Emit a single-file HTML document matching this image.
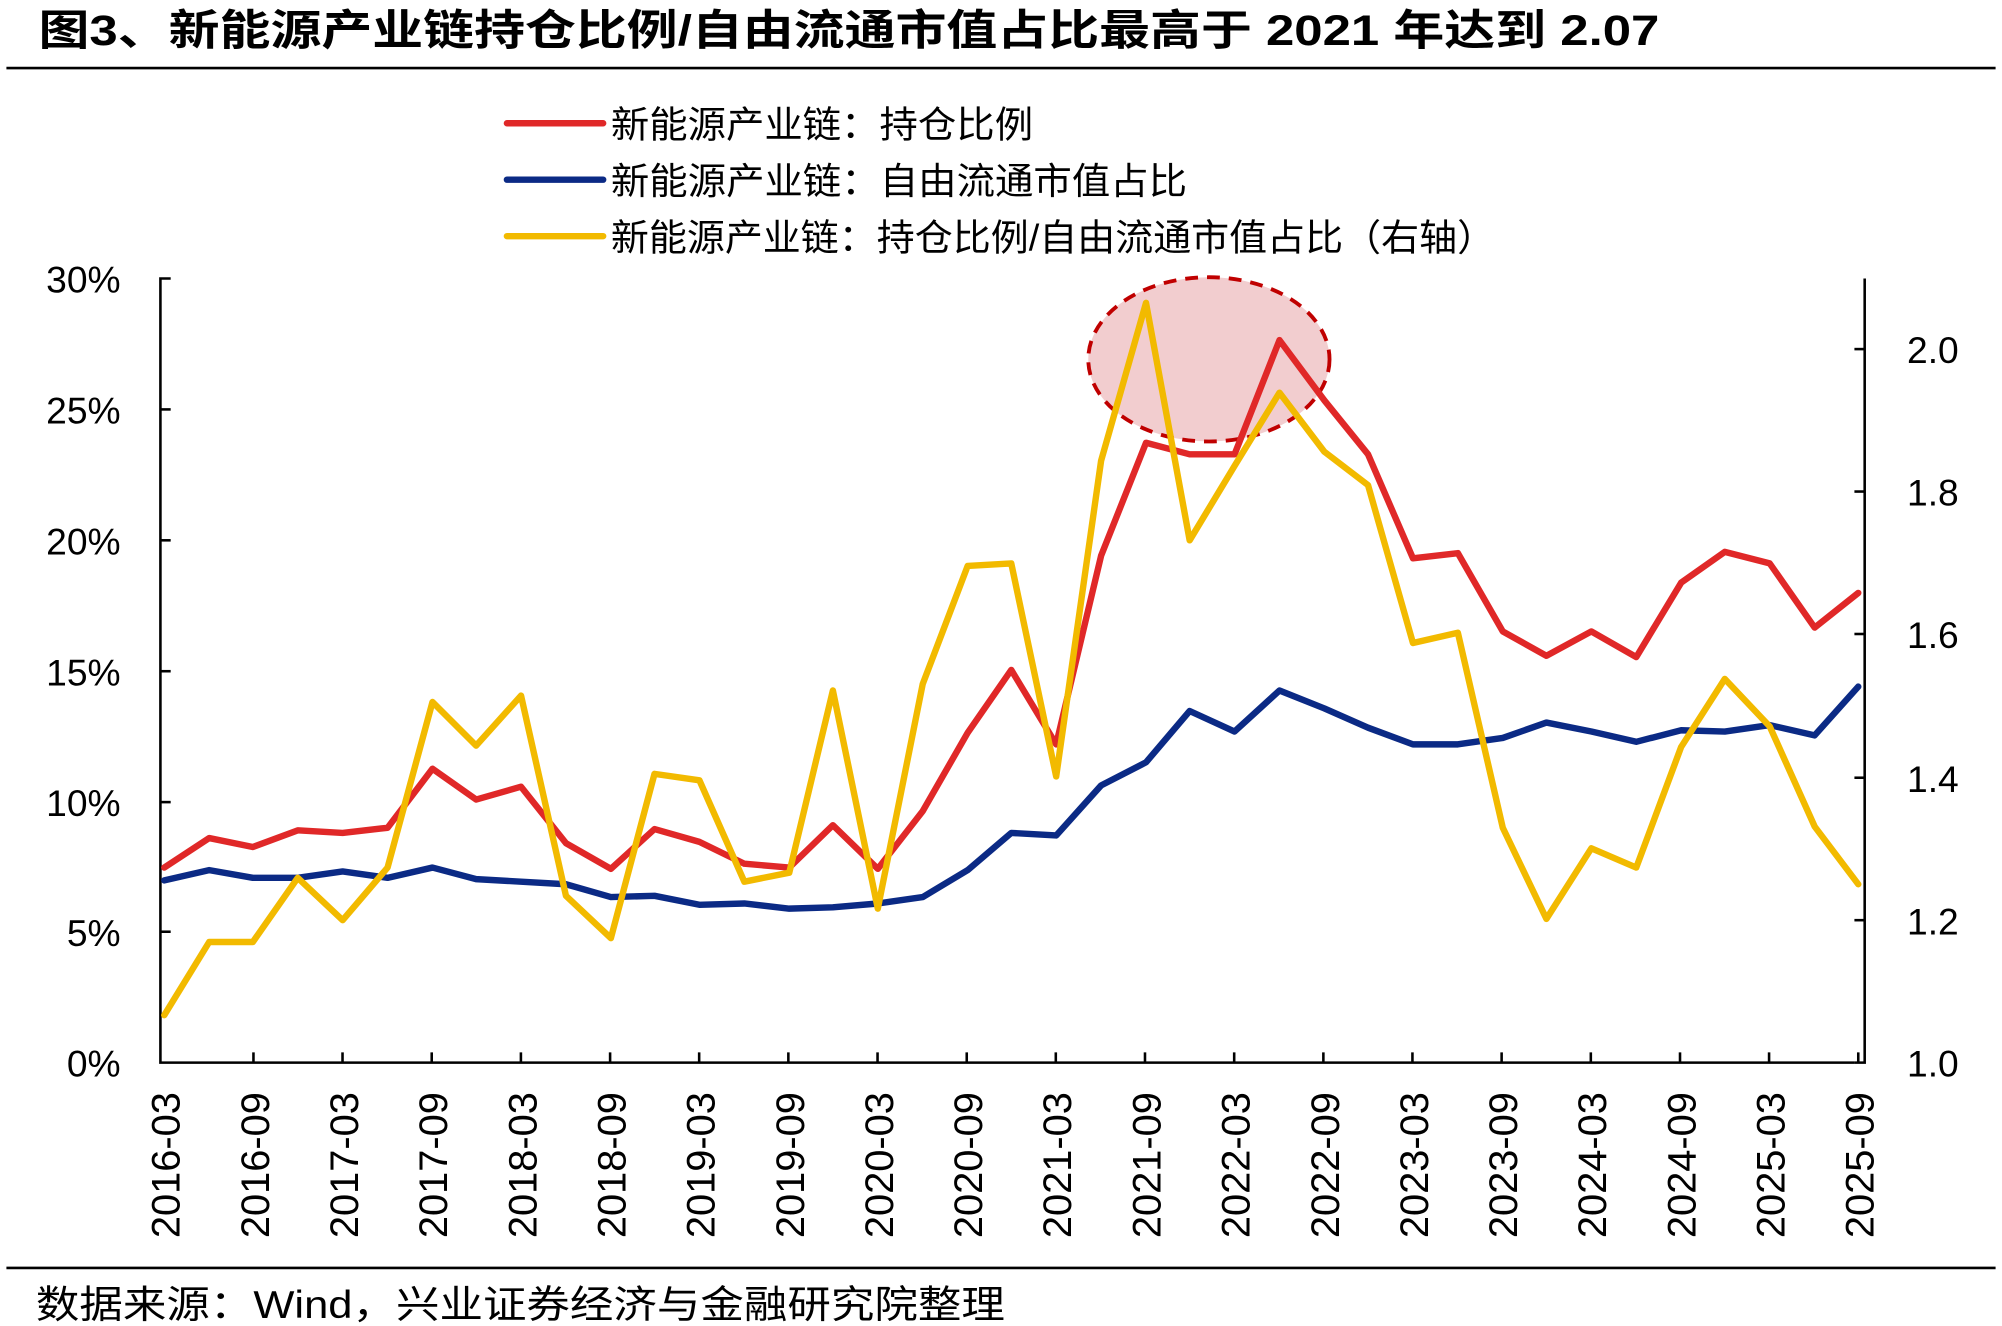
<!DOCTYPE html>
<html><head><meta charset="utf-8"><style>
html,body{margin:0;padding:0;background:#fff;}
svg{display:block;}
text{font-family:"Liberation Sans","Noto Sans CJK SC",sans-serif;fill:#000;}
</style></head><body>
<svg width="2002" height="1326" viewBox="0 0 1560 1033.2" xmlns="http://www.w3.org/2000/svg">
<text x="30" y="35" font-size="33" font-weight="bold" textLength="1263" lengthAdjust="spacingAndGlyphs">图3、新能源产业链持仓比例/自由流通市值占比最高于 2021 年达到 2.07</text>
<line x1="5" y1="53" x2="1555" y2="53" stroke="#000" stroke-width="2"/>
<line x1="395" y1="96" x2="470" y2="96" stroke="#e02828" stroke-width="5" stroke-linecap="round"/>
<line x1="395" y1="140" x2="470" y2="140" stroke="#0b2a85" stroke-width="5" stroke-linecap="round"/>
<line x1="395" y1="184" x2="470" y2="184" stroke="#f2ba00" stroke-width="5" stroke-linecap="round"/>
<text x="476" y="107" font-size="29" textLength="329" lengthAdjust="spacingAndGlyphs">新能源产业链：持仓比例</text>
<text x="476" y="151" font-size="29" textLength="449" lengthAdjust="spacingAndGlyphs">新能源产业链：自由流通市值占比</text>
<text x="476" y="195" font-size="29" textLength="689" lengthAdjust="spacingAndGlyphs">新能源产业链：持仓比例/自由流通市值占比（右轴）</text>
<ellipse cx="942" cy="280" rx="94" ry="64" fill="#e8a4a8" fill-opacity="0.55" stroke="#c00000" stroke-width="3" stroke-dasharray="10,7"/>
<g stroke="#000" stroke-width="2" fill="none">
<polyline points="133,217 125,217 125,828 1445,828"/>
<line x1="125" y1="319" x2="133" y2="319"/><line x1="125" y1="421" x2="133" y2="421"/><line x1="125" y1="523" x2="133" y2="523"/><line x1="125" y1="625" x2="133" y2="625"/><line x1="125" y1="726" x2="133" y2="726"/>
<polyline points="1453,217 1453,828 1445,828"/>
<line x1="1445" y1="272" x2="1453" y2="272"/><line x1="1445" y1="383" x2="1453" y2="383"/><line x1="1445" y1="494" x2="1453" y2="494"/><line x1="1445" y1="606" x2="1453" y2="606"/><line x1="1445" y1="717" x2="1453" y2="717"/>
<line x1="197.5" y1="820" x2="197.5" y2="828"/><line x1="266.9" y1="820" x2="266.9" y2="828"/><line x1="336.4" y1="820" x2="336.4" y2="828"/><line x1="405.9" y1="820" x2="405.9" y2="828"/><line x1="475.4" y1="820" x2="475.4" y2="828"/><line x1="544.8" y1="820" x2="544.8" y2="828"/><line x1="614.3" y1="820" x2="614.3" y2="828"/><line x1="683.8" y1="820" x2="683.8" y2="828"/><line x1="753.3" y1="820" x2="753.3" y2="828"/><line x1="822.7" y1="820" x2="822.7" y2="828"/><line x1="892.2" y1="820" x2="892.2" y2="828"/><line x1="961.7" y1="820" x2="961.7" y2="828"/><line x1="1031.2" y1="820" x2="1031.2" y2="828"/><line x1="1100.6" y1="820" x2="1100.6" y2="828"/><line x1="1170.1" y1="820" x2="1170.1" y2="828"/><line x1="1239.6" y1="820" x2="1239.6" y2="828"/><line x1="1309.1" y1="820" x2="1309.1" y2="828"/><line x1="1378.5" y1="820" x2="1378.5" y2="828"/><line x1="1448" y1="820" x2="1448" y2="828"/>
</g>
<g font-size="29" text-anchor="end">
<text x="94" y="228">30%</text><text x="94" y="330">25%</text><text x="94" y="432">20%</text><text x="94" y="534">15%</text><text x="94" y="636">10%</text><text x="94" y="737">5%</text><text x="94" y="839">0%</text>
</g>
<g font-size="29">
<text x="1486" y="283">2.0</text><text x="1486" y="394">1.8</text><text x="1486" y="505">1.6</text><text x="1486" y="617">1.4</text><text x="1486" y="728">1.2</text><text x="1486" y="839">1.0</text>
</g>
<g font-size="31" text-anchor="end">
<text transform="translate(140,851) rotate(-90)">2016-03</text>
<text transform="translate(209.5,851) rotate(-90)">2016-09</text>
<text transform="translate(278.9,851) rotate(-90)">2017-03</text>
<text transform="translate(348.4,851) rotate(-90)">2017-09</text>
<text transform="translate(417.9,851) rotate(-90)">2018-03</text>
<text transform="translate(487.4,851) rotate(-90)">2018-09</text>
<text transform="translate(556.8,851) rotate(-90)">2019-03</text>
<text transform="translate(626.3,851) rotate(-90)">2019-09</text>
<text transform="translate(695.8,851) rotate(-90)">2020-03</text>
<text transform="translate(765.3,851) rotate(-90)">2020-09</text>
<text transform="translate(834.7,851) rotate(-90)">2021-03</text>
<text transform="translate(904.2,851) rotate(-90)">2021-09</text>
<text transform="translate(973.7,851) rotate(-90)">2022-03</text>
<text transform="translate(1043.2,851) rotate(-90)">2022-09</text>
<text transform="translate(1112.6,851) rotate(-90)">2023-03</text>
<text transform="translate(1182.1,851) rotate(-90)">2023-09</text>
<text transform="translate(1251.6,851) rotate(-90)">2024-03</text>
<text transform="translate(1321.1,851) rotate(-90)">2024-09</text>
<text transform="translate(1390.5,851) rotate(-90)">2025-03</text>
<text transform="translate(1460,851) rotate(-90)">2025-09</text>
</g>
<polyline fill="none" stroke="#0b2a85" stroke-width="5" stroke-linejoin="round" stroke-linecap="round" points="128,686 163,678 197,684 232,684 267,679 302,684 337,676 371,685 406,687 441,689 476,699 510,698 545,705 580,704 615,708 649,707 684,704 719,699 754,678 788,649 823,651 858,612 893,594 927,554 962,570 997,538 1032,552 1066,567 1101,580 1136,580 1171,575 1205,563 1240,570 1275,578 1310,569 1344,570 1379,565 1414,573 1448,535"/>
<polyline fill="none" stroke="#e02828" stroke-width="5" stroke-linejoin="round" stroke-linecap="round" points="128,676 163,653 197,660 232,647 267,649 302,645 337,599 371,623 406,613 441,657 476,677 510,646 545,656 580,673 615,676 649,643 684,677 719,632 754,571 788,522 823,580 858,433 893,345 927,354 962,354 997,265 1032,312 1066,354 1101,435 1136,431 1171,492 1205,511 1240,492 1275,512 1310,454 1344,430 1379,439 1414,489 1448,462"/>
<polyline fill="none" stroke="#f2ba00" stroke-width="5" stroke-linejoin="round" stroke-linecap="round" points="128,791 163,734 197,734 232,684 267,717 302,676 337,547 371,581 406,542 441,698 476,731 510,603 545,608 580,687 615,680 649,538 684,708 719,533 754,441 788,439 823,605 858,359 893,236 927,421 962,363 997,306 1032,352 1066,378 1101,501 1136,493 1171,645 1205,716 1240,661 1275,676 1310,582 1344,529 1379,566 1414,644 1448,689"/>
<line x1="5" y1="988" x2="1555" y2="988" stroke="#000" stroke-width="2"/>
<text x="28" y="1027" font-size="30" textLength="755" lengthAdjust="spacingAndGlyphs">数据来源：Wind，兴业证券经济与金融研究院整理</text>
</svg>
</body></html>
